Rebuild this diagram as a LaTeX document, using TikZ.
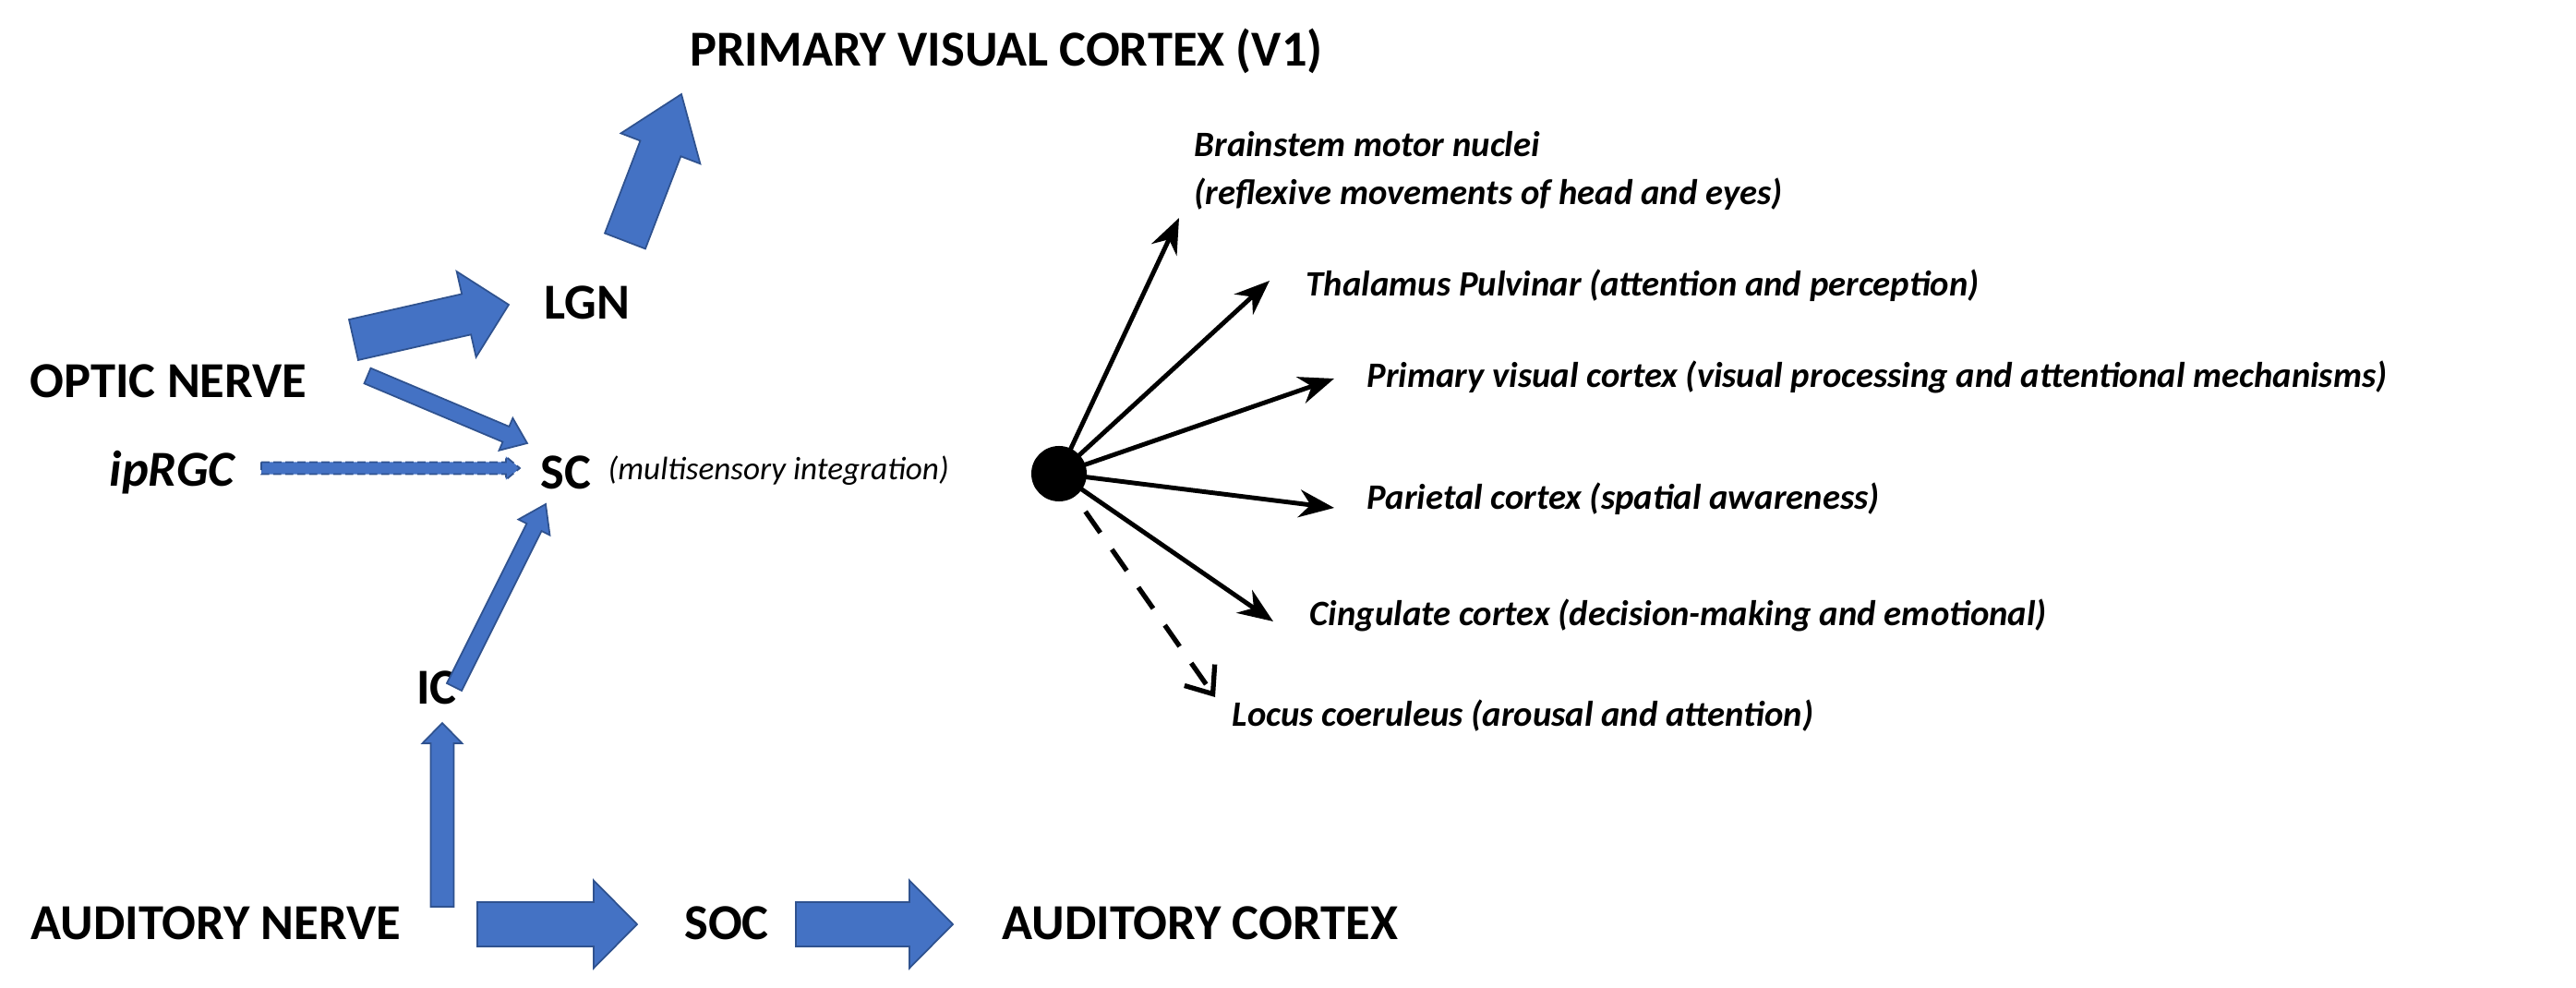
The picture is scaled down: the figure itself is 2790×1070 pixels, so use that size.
\documentclass[tikz,border=0pt]{standalone}
\usepackage{fontspec}
\setmainfont{Carlito}
\usetikzlibrary{calc,arrows.meta}
\definecolor{bfill}{HTML}{4472C4}
\definecolor{bline}{HTML}{2F528F}
\newcommand\blockarr[6][]{%
  % #2 tail, #3 tip, #4 shaft width, #5 head width, #6 head length (cm)
  \coordinate (hb) at ($(#3)!#6!(#2)$);
  \path[blk,#1] ($(#2)!#4/2!90:(#3)$) -- ($(hb)!#4/2!90:(#3)$) -- ($(hb)!#5/2!90:(#3)$)
     -- (#3) -- ($(hb)!#5/2!-90:(#3)$) -- ($(hb)!#4/2!-90:(#3)$) -- ($(#2)!#4/2!-90:(#3)$) -- cycle;}
\begin{document}
\begin{tikzpicture}[x=0.01cm,y=-0.01cm,
  blk/.style={fill=bfill,draw=bline,line width=0.5pt,line join=miter},
  big/.style={font=\fontsize{15.5}{18}\selectfont\bfseries,inner sep=0pt},
  lab/.style={font=\fontsize{11}{13}\selectfont\bfseries\itshape,inner sep=0pt,anchor=west},
  ray/.style={line width=1.4pt,-{Stealth[length=0.38cm,width=0.3cm]}}]
\useasboundingbox (0,0) rectangle (2790,1070);
% nodes
\node[big] (v1) at (1090,55) {PRIMARY VISUAL CORTEX (V1)};
\node[big] (lgn) at (636,328) {LGN};
\node[big,anchor=west] (on) at (32,413) {OPTIC NERVE};
\node[big,anchor=west,font=\fontsize{15.5}{18}\selectfont\bfseries\itshape] (ip) at (118,512) {ipRGC};
\node[big,anchor=west] (sc) at (585,512) {SC};
\node[anchor=west,inner sep=0pt,font=\fontsize{10}{12}\selectfont\itshape] (msi) at (658,510) {(multisensory integration)};
\node[big] (ic) at (473,745) {IC};
\node[big,anchor=west] (an) at (33,1000) {AUDITORY NERVE};
\node[big] (soc) at (787,1000) {SOC};
\node[big,anchor=west] (ac) at (1085,1000) {AUDITORY CORTEX};
% arrow end points
\coordinate (a1t) at (677,261); \coordinate (a1p) at (738,102);
\coordinate (a2t) at (383,368); \coordinate (a2p) at (551,330);
\coordinate (a3t) at (398,407); \coordinate (a3p) at (571,480);
\coordinate (a4t) at (283,507); \coordinate (a4p) at (563,507);
\coordinate (a5t) at (492,744); \coordinate (a5p) at (591,546);
\coordinate (a6t) at (479,982); \coordinate (a6p) at (479,783);
\coordinate (a7t) at (517,1001); \coordinate (a7p) at (690,1001);
\coordinate (a8t) at (862,1001); \coordinate (a8p) at (1032,1001);
\blockarr{a1t}{a1p}{0.47cm}{0.92cm}{0.63cm}
\blockarr{a2t}{a2p}{0.45cm}{0.95cm}{0.47cm}
\blockarr{a3t}{a3p}{0.18cm}{0.38cm}{0.25cm}
\blockarr[dash pattern=on 2.5pt off 1.2pt]{a4t}{a4p}{0.13cm}{0.25cm}{0.15cm}
\blockarr{a5t}{a5p}{0.18cm}{0.38cm}{0.28cm}
\blockarr{a6t}{a6p}{0.25cm}{0.43cm}{0.22cm}
\blockarr{a7t}{a7p}{0.48cm}{0.95cm}{0.47cm}
\blockarr{a8t}{a8p}{0.48cm}{0.95cm}{0.47cm}
% right side labels
\node[lab] (bm) at (1293,156) {Brainstem motor nuclei};
\node[lab] (bm2) at (1293,210) {(reflexive movements of head and eyes)};
\node[lab] (th) at (1414,309) {Thalamus Pulvinar (attention and perception)};
\node[lab] (pv) at (1480,408) {Primary visual cortex (visual processing and attentional mechanisms)};
\node[lab] (pa) at (1480,540) {Parietal cortex (spatial awareness)};
\node[lab] (ci) at (1418,666) {Cingulate cortex (decision-making and emotional)};
\node[lab] (lc) at (1334,775) {Locus coeruleus (arousal and attention)};
\node[circle,fill=black,minimum size=0.6cm,inner sep=0pt] (dot) at (1147,513) {};
\coordinate (r1) at (1277,236);
\coordinate (r2) at (1375,304);
\coordinate (r3) at (1445,410);
\coordinate (r4) at (1445,550);
\coordinate (r5) at (1379,673);
\coordinate (r6) at (1316,755);
\foreach \r in {r1,r2,r3,r4,r5} \draw[ray] (dot.center) -- (\r);
\draw[line width=1.5pt,dash pattern=on 0.28cm off 0.22cm,-{Straight Barb[length=0.25cm,width=0.4cm]}] (dot.center) -- (r6);
\end{tikzpicture}
\end{document}
